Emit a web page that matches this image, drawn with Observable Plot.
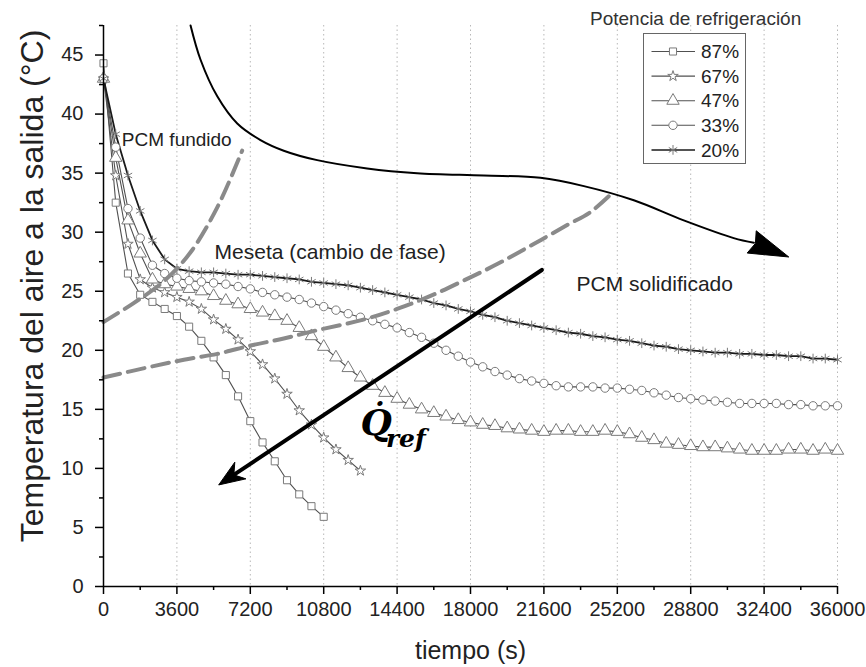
<!DOCTYPE html>
<html><head><meta charset="utf-8">
<script src="https://cdn.jsdelivr.net/npm/d3@7"></script>
<script src="https://cdn.jsdelivr.net/npm/@observablehq/plot@0.6"></script>
<style>
body{margin:0;background:#fff;font-family:"Liberation Sans",Arial,sans-serif}
#wrap{position:relative;width:866px;height:667px;overflow:hidden}
#ltitle{position:absolute;left:590px;top:8px;font-size:19px;color:#333;white-space:nowrap}
#lbox{position:absolute;left:643px;top:33px;width:103px;height:131px;background:#fff;border:1.5px solid #666;box-sizing:border-box}
</style></head><body>
<div id="wrap"><div id="chart"></div><div id="ltitle">Potencia de refrigeración</div><div id="lbox"></div></div>
<script>
// ---- data ----
const tiempo = [0,600,1200,1800,2400,3000,3600,4200,4800,5400,6000,6600,7200,7800,8400,9000,9600,10200,10800,11400,12000,12600,13200,13800,14400,15000,15600,16200,16800,17400,18000,18600,19200,19800,20400,21000,21600,22200,22800,23400,24000,24600,25200,25800,26400,27000,27600,28200,28800,29400,30000,30600,31200,31800,32400,33000,33600,34200,34800,35400,36000];
const potencias = ["87%","67%","47%","33%","20%"];
const simbolos = ["square","star","triangle","circle","asterisk"];
const temp87 = [44.3,32.5,26.5,24.7,24.1,23.5,22.9,22.0,20.8,19.4,17.9,16.1,14.0,12.2,10.6,9.0,7.8,6.8,5.9];
const temp67 = [43.0,34.8,29.0,26.0,25.3,24.9,24.5,24.1,23.5,22.6,21.8,20.9,19.9,18.8,17.6,16.3,14.9,13.7,12.6,11.6,10.7,9.8];
const temp47 = [43.0,36.3,31.0,28.2,26.0,25.6,25.4,25.2,25.0,24.6,24.2,23.9,23.5,23.2,22.9,22.5,21.9,21.2,20.3,19.4,18.5,17.7,17.0,16.4,15.9,15.4,15.0,14.7,14.4,14.1,13.9,13.7,13.6,13.4,13.3,13.2,13.1,13.2,13.2,13.1,13.1,13.2,13.1,12.9,12.6,12.4,12.1,12.0,11.9,11.8,11.8,11.7,11.6,11.5,11.5,11.5,11.6,11.6,11.5,11.6,11.5];
const temp33 = [43.0,37.2,32.0,29.5,27.2,26.5,26.1,25.9,25.8,25.7,25.6,25.4,25.2,24.9,24.7,24.5,24.3,24.0,23.7,23.4,23.1,22.8,22.5,22.2,21.9,21.5,21.1,20.6,20.0,19.5,19.0,18.6,18.2,17.9,17.6,17.4,17.2,17.0,16.9,16.9,16.9,16.8,16.8,16.7,16.6,16.4,16.2,16.0,15.9,15.8,15.7,15.6,15.5,15.5,15.5,15.5,15.4,15.4,15.3,15.3,15.3];
const temp20 = [43.0,38.3,34.8,31.8,29.3,27.7,26.9,26.7,26.6,26.6,26.5,26.4,26.4,26.3,26.2,26.1,26.0,25.8,25.7,25.6,25.5,25.3,25.1,24.9,24.7,24.5,24.3,24.0,23.8,23.5,23.3,23.0,22.8,22.5,22.3,22.1,21.9,21.7,21.5,21.4,21.2,21.1,20.9,20.8,20.6,20.4,20.3,20.1,20.0,19.9,19.8,19.8,19.7,19.7,19.6,19.6,19.5,19.5,19.3,19.3,19.2];

// annotation curves
const fundido_t = [0,1480,3000,4270,5580,6800];
const fundido_T = [22.4,24.0,25.9,28.3,32.1,36.9];
const solid_t = [0,2300,3940,5580,7210,8840,10480,12750,14400,16040,17660,19310,21100,22740,23880,25000];
const solid_T = [17.7,18.6,19.2,19.7,20.4,21.0,21.7,22.6,23.5,24.6,25.9,27.3,29.0,30.6,31.7,33.4];
const curva_t = [4270,4760,5580,6560,7700,8840,10480,12930,15380,18650,21430,23560,26010,28460,30910,31900];
const curva_T = [47.5,44.6,41.5,39.2,37.8,36.9,36.1,35.4,35.0,34.8,34.6,33.9,32.7,31.0,29.5,29.1];
const curvaPunta = {t: 33610, T: 27.9};
const flecha = {t1: 21500, T1: 26.8, t2: 5650, T2: 8.6};

const ticksX = [0,3600,7200,10800,14400,18000,21600,25200,28800,32400,36000];
const minorX = [1800,5400,9000,12600,16200,19800,23400,27000,30600,34200];
const ticksY = [0,5,10,15,20,25,30,35,40,45];
const minorY = [2.5,7.5,12.5,17.5,22.5,27.5,32.5,37.5,42.5,47.5];

const textos = [
  {texto: "PCM fundido", t: 900, T: 37.8, size: 19},
  {texto: "Meseta (cambio de fase)", t: 5450, T: 28.3, size: 21},
  {texto: "PCM solidificado", t: 23200, T: 25.6, size: 21}
];
const qPos = {t: 12600, T: 13.8};
const refPos = {t: 13850, T: 12.5};

// ---- build ----
const W = 866, H = 667, ML = 103, MR = 29, MT = 25, MB = 81;
const xs = d3.scaleLinear([0, 36000], [ML, W - MR]);
const ys = d3.scaleLinear([0, 47.5], [H - MB, MT]);

const series = [temp87, temp67, temp47, temp33, temp20];
const datos = series.flatMap((arr, k) => arr.map((T, i) => ({t: tiempo[i], T, serie: potencias[k]})));
const zip = (a, b) => a.map((t, i) => ({t, T: b[i]}));

function cabeza(angle, L, Wd, notch) {
  const c = Math.cos(angle), s = Math.sin(angle);
  const pts = [[0,0],[-L,-Wd/2],[-L*notch,0],[-L,Wd/2]].map(([px,py]) => [px*c - py*s, px*s + py*c]);
  return {draw(ctx) { ctx.moveTo(...pts[0]); for (const p of pts.slice(1)) ctx.lineTo(...p); ctx.closePath(); }};
}
const last = curva_t.length - 1;
const angCurva = Math.atan2(ys(curvaPunta.T) - ys(curva_T[last]), xs(curvaPunta.t) - xs(curva_t[last]));
const angFlecha = Math.atan2(ys(flecha.T2) - ys(flecha.T1), xs(flecha.t2) - xs(flecha.t1));

const radios = [4, 3.3, 4.6, 4.2, 4.6];
const marks = [
  Plot.gridX(ticksX.slice(1), {stroke: "#b8b8b8", strokeOpacity: 1, strokeDasharray: "1.5,3"}),
  ...potencias.map((p, k) => Plot.line(datos.filter(d => d.serie === p), {x: "t", y: "T", stroke: k === 4 ? "#1a1a1a" : "#505050", strokeWidth: k === 4 ? 1.8 : 1.1})),
  ...potencias.map((p, k) => Plot.dot(datos.filter(d => d.serie === p), {x: "t", y: "T", symbol: simbolos[k], r: radios[k], stroke: "#7a7a7a", strokeWidth: 1, fill: k === 4 ? "none" : "white"})),
  Plot.line(zip(fundido_t, fundido_T), {x: "t", y: "T", curve: "catmull-rom", stroke: "#8a8a8a", strokeWidth: 4, strokeDasharray: "17,8"}),
  Plot.line(zip(solid_t, solid_T), {x: "t", y: "T", curve: "catmull-rom", stroke: "#8a8a8a", strokeWidth: 4, strokeDasharray: "17,8"}),
  Plot.line(zip(curva_t, curva_T), {x: "t", y: "T", curve: "catmull-rom", stroke: "#000", strokeWidth: 2}),
  Plot.dot([curvaPunta], {x: "t", y: "T", symbol: cabeza(angCurva, 40, 24, 0.9), fill: "#000", stroke: "#000", strokeWidth: 1}),
  Plot.arrow([flecha], {x1: "t1", y1: "T1", x2: "t2", y2: "T2", stroke: "#000", strokeWidth: 4, headLength: 0, insetEnd: 14}),
  Plot.dot([flecha], {x: "t2", y: "T2", symbol: cabeza(angFlecha, 26, 20, 0.7), fill: "#000", stroke: "#000", strokeWidth: 1}),
  Plot.text(textos, {x: "t", y: "T", text: "texto", fontSize: d => d.size, textAnchor: "start", fill: "#222"}),
  Plot.text([qPos], {x: "t", y: "T", text: () => "Q\u0307", fontSize: 36, fontWeight: "bold", fontStyle: "italic", fontFamily: "DejaVu Serif", textAnchor: "start", fill: "#000"}),
  Plot.text([refPos], {x: "t", y: "T", text: () => "ref", fontSize: 25, fontWeight: "bold", fontStyle: "italic", fontFamily: "DejaVu Serif", textAnchor: "start", fill: "#000"}),
  Plot.axisX(minorX, {tickSize: 4, fill: "none", stroke: "#000", strokeWidth: 1.5}),
  Plot.axisX(ticksX, {tickSize: 8, tickPadding: 7, tickFormat: d => String(d), fontSize: 20, label: null, stroke: "#000", strokeWidth: 1.5, fill: "#222"}),
  Plot.axisY(minorY, {tickSize: 4, fill: "none", stroke: "#000", strokeWidth: 1.5}),
  Plot.axisY(ticksY, {tickSize: 8, tickPadding: 12, fontSize: 20, label: null, stroke: "#000", strokeWidth: 1.5, fill: "#222"}),
  Plot.ruleX([0], {stroke: "#000", strokeWidth: 1.5}),
  Plot.ruleY([0], {stroke: "#000", strokeWidth: 1.5}),
  Plot.text(["Temperatura del aire a la salida (°C)"], {text: d => d, frameAnchor: "left", textAnchor: "middle", lineAnchor: "middle", rotate: -90, dx: -71, dy: -20, fontSize: 32, fill: "#222"}),
  Plot.text(["tiempo (s)"], {text: d => d, frameAnchor: "bottom", textAnchor: "middle", lineAnchor: "middle", dy: 64, dx: 0, fontSize: 25, fill: "#222"})
];

const chart = Plot.plot({
  width: W, height: H, marginLeft: ML, marginRight: MR, marginTop: MT, marginBottom: MB,
  x: {domain: [0, 36000]}, y: {domain: [0, 47.5]},
  style: {fontFamily: "'Liberation Sans', Arial, sans-serif", background: "white", overflow: "visible"},
  marks
});
document.getElementById("chart").appendChild(chart);

// ---- legend ----
const lsvg = d3.select("#lbox").append("svg").attr("width", 100).attr("height", 128);
const symTypes = [d3.symbolSquare, d3.symbolStar, d3.symbolTriangle, d3.symbolCircle, d3.symbolAsterisk];
potencias.forEach((p, k) => {
  const y = 17.5 + k * 24.6;
  const g = lsvg.append("g").attr("transform", `translate(0,${y})`);
  g.append("line").attr("x1", 7.5).attr("x2", 51).attr("stroke", k === 4 ? "#1a1a1a" : "#505050").attr("stroke-width", k === 4 ? 1.5 : 1.1);
  g.append("path").attr("transform", "translate(29,0)").attr("d", d3.symbol(symTypes[k], Math.PI * radios[k] * radios[k])())
    .attr("fill", k === 4 ? "none" : "white").attr("stroke", "#7a7a7a");
  g.append("text").attr("x", 57).attr("dy", "0.35em").attr("font-size", 19).attr("fill", "#222").text(p);
});
</script>
</body></html>
